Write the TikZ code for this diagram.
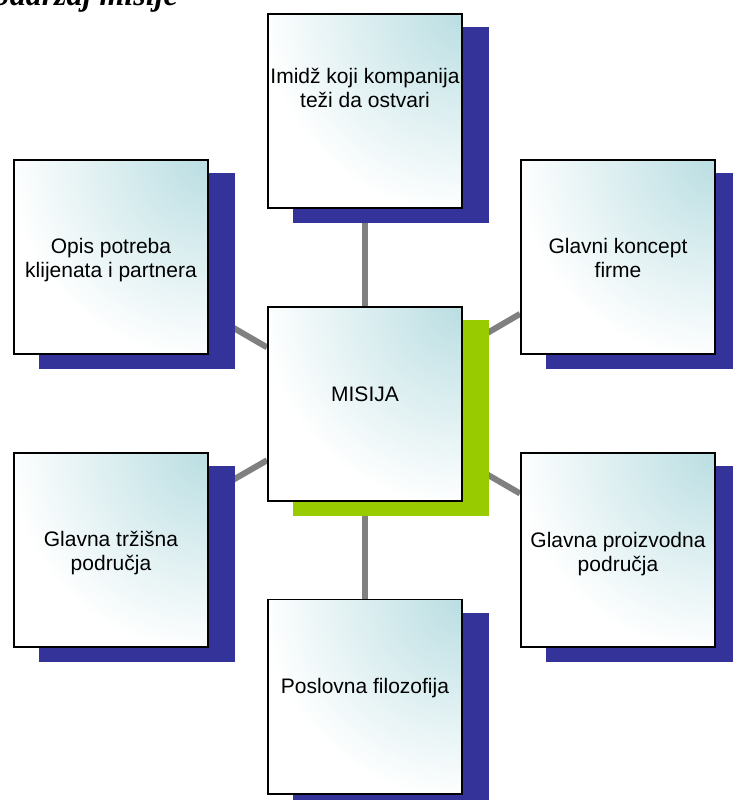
\documentclass[tikz,border=0pt]{standalone}
\usepackage{fontspec}
\setmainfont{Liberation Sans}
\newfontfamily\headserif{Liberation Serif}

\definecolor{panelcyan}{RGB}{186,222,226}
\definecolor{shadeblue}{RGB}{51,51,153}
\definecolor{shadegreen}{RGB}{153,204,0}
\definecolor{linkgray}{RGB}{128,128,128}

\pgfdeclarelayer{links}
\pgfdeclarelayer{shades}
\pgfsetlayers{links,shades,main}

\tikzset{
  panel/.style={draw=black, line width=1.8pt, minimum size=194.2pt,
    inner sep=0pt, fill=white,
    path picture={\shade[inner color=panelcyan, outer color=white]
      (path picture bounding box.north east) circle (200pt);}},
  boxtext/.style={font=\fontsize{21}{24.5}\selectfont, inner sep=0pt, anchor=base},
  link/.style={draw=linkgray, line width=6pt},
}

% offset block behind a panel
\newcommand\dropblock[2]{%
  \fill[#2] ([shift={(26pt,-14pt)}]#1.south west) rectangle ([shift={(26pt,-14pt)}]#1.north east);}

\begin{document}
\begin{tikzpicture}[x=1pt,y=-1pt]
\useasboundingbox (0,0) rectangle (732,800);

% panels
\node[panel] (top) at (365,111) {};
\node[panel] (mis) at (365,404) {};
\node[panel] (lt)  at (111,257) {};
\node[panel] (rt)  at (618,257) {};
\node[panel] (lb)  at (111,550) {};
\node[panel] (rb)  at (618,550) {};
\node[panel] (bot) at (365,696.5) {};

% panel texts
\node[boxtext] (top-t) at (365,83)  {\begin{tabular}[t]{@{}c@{}}Imidž koji kompanija\\teži da ostvari\end{tabular}};
\node[boxtext] (mis-t) at (365,401) {MISIJA};
\node[boxtext] (lt-t)  at (111,253) {\begin{tabular}[t]{@{}c@{}}Opis potreba\\klijenata i partnera\end{tabular}};
\node[boxtext] (rt-t)  at (618,253) {\begin{tabular}[t]{@{}c@{}}Glavni koncept\\firme\end{tabular}};
\node[boxtext] (lb-t)  at (111,546) {\begin{tabular}[t]{@{}c@{}}Glavna tržišna\\područja\end{tabular}};
\node[boxtext] (rb-t)  at (618,547) {\begin{tabular}[t]{@{}c@{}}Glavna proizvodna\\područja\end{tabular}};
\node[boxtext] (bot-t) at (365,693) {Poslovna filozofija};

% heading at the top edge
\node[font=\headserif\bfseries\itshape\fontsize{32}{32}\selectfont,
      anchor=base east, inner sep=0pt] (head) at (178,6) {Sadržaj misije};

% offset blocks
\begin{pgfonlayer}{shades}
  \dropblock{top}{shadeblue}
  \dropblock{mis}{shadegreen}
  \dropblock{lt}{shadeblue}
  \dropblock{rt}{shadeblue}
  \dropblock{lb}{shadeblue}
  \dropblock{rb}{shadeblue}
  \dropblock{bot}{shadeblue}
\end{pgfonlayer}

% connectors
\begin{pgfonlayer}{links}
  \draw[link] (mis) -- (top);
  \draw[link] (mis) -- (lt);
  \draw[link] (mis) -- (rt);
  \draw[link] (mis) -- (lb);
  \draw[link] (mis) -- (rb);
  \draw[link] (mis) -- (bot);
\end{pgfonlayer}
\end{tikzpicture}
\end{document}
